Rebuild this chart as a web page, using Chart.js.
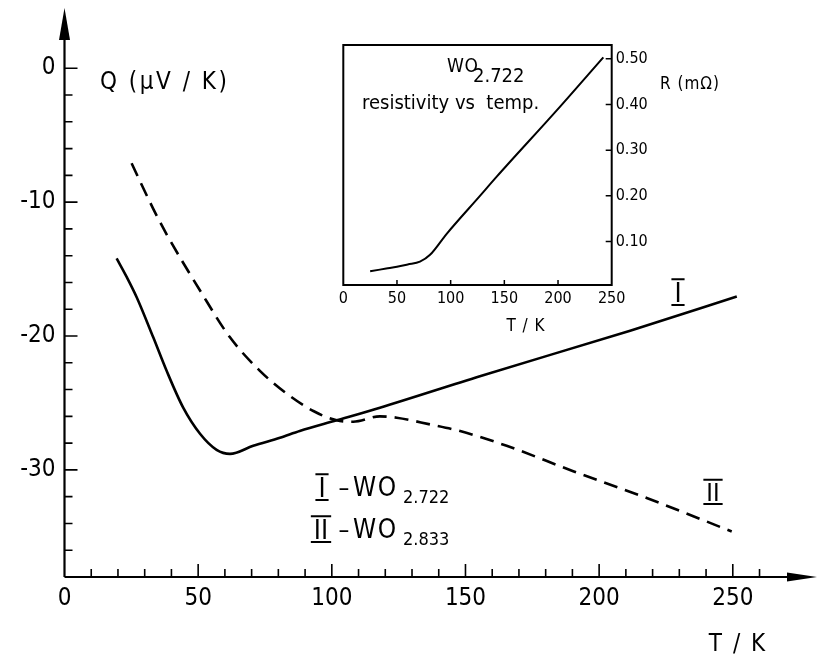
<!DOCTYPE html>
<html>
<head>
<meta charset="utf-8">
<script src="https://cdn.jsdelivr.net/npm/chart.js@4.4.1/dist/chart.umd.min.js"></script>
<style>
  html, body { margin: 0; padding: 0; background: #fff; }
  #wrap { position: relative; width: 823px; height: 654px; }
  #main { position: absolute; left: 0; top: 0; }
  #inset { position: absolute; left: 300px; top: 30px; }
</style>
</head>
<body>
<div id="wrap">
  <canvas id="main" width="823" height="654"></canvas>
  <canvas id="inset" width="470" height="320"></canvas>
</div>
<script>
/* ===== DATA ===== */
// curve I : WO2.722, solid
const curveI_T = [19.5, 23.3, 27, 33.2, 38.2, 44.4, 50.7, 56.9, 61.9, 70.6, 80.6, 88, 101.8, 118, 155.4, 211.6, 251.5];
const curveI_Q = [-14.2, -15.6, -17.1, -20.1, -22.6, -25.35, -27.3, -28.5, -28.8, -28.2, -27.6, -27.1, -26.3, -25.35, -23.0, -19.6, -17.05];
// curve II : WO2.833, dashed
const curveII_T = [25.1, 33.2, 38.2, 50.7, 61.9, 73.1, 83.1, 93.1, 101.8, 108, 118, 124.3, 136.7, 148, 165.4, 190.3, 217.8, 249.6];
const curveII_Q = [-7.1, -10.5, -12.4, -16.6, -20.1, -22.6, -24.3, -25.6, -26.3, -26.4, -26.0, -26.1, -26.6, -27.1, -28.2, -30.1, -32.1, -34.6];
// inset : resistivity vs temperature
const insetT = [25, 40, 50, 60, 71.4, 80.8, 96.3, 127.3, 142.9, 198.8, 242.2];
const insetR = [0.035, 0.041, 0.045, 0.05, 0.056, 0.071, 0.117, 0.200, 0.242, 0.387, 0.503];

// ticks
const xTickVals   = [0, 50, 100, 150, 200, 250];
const xMinorTicks = [10, 20, 30, 40, 60, 70, 80, 90, 110, 120, 130, 140, 160, 170, 180, 190, 210, 220, 230, 240, 260];
const yTickVals   = [0, -10, -20, -30];
const yMinorTicks = [-2, -4, -6, -8, -12, -14, -16, -18, -22, -24, -26, -28, -32, -34, -36];
const insetXTicks = [0, 50, 100, 150, 200, 250];
const insetYTicks = [0.10, 0.20, 0.30, 0.40, 0.50];

/* ===== HELPERS ===== */
const FAM = '"DejaVu Sans Condensed", "Liberation Sans Narrow", "DejaVu Sans", sans-serif';
const pts = (xs, ys) => xs.map((v, i) => ({ x: v, y: ys[i] }));

// no extra room for edge labels, the plot area is fixed by hand
function fixBox(s, w, h) {
  if (w !== null) s.width = w;
  if (h !== null) s.height = h;
  s.paddingTop = 0; s.paddingBottom = 0; s.paddingLeft = 0; s.paddingRight = 0;
}

function txt(ctx, s, x, y, size, align, spacing) {
  ctx.font = size + 'px ' + FAM;
  ctx.textAlign = align || 'left';
  ctx.textBaseline = 'alphabetic';
  ctx.letterSpacing = (spacing || 0) + 'px';
  ctx.fillText(s, x, y);
  ctx.letterSpacing = '0px';
}

// roman numeral with bar above and below
function roman(ctx, s, cx, base, size) {
  txt(ctx, s, cx, base, size, 'center');
  ctx.font = size + 'px ' + FAM;
  const w = ctx.measureText(s).width + 6;
  const cap = size * 0.73;
  ctx.lineWidth = 2;
  ctx.beginPath();
  ctx.moveTo(cx - w / 2, base - cap - 3); ctx.lineTo(cx + w / 2, base - cap - 3);
  ctx.moveTo(cx - w / 2, base + 3);       ctx.lineTo(cx + w / 2, base + 3);
  ctx.stroke();
}

/* ===== MAIN CHART DECORATION ===== */
const mainDeco = {
  id: 'mainDeco',
  afterDraw(chart) {
    const { ctx, scales: { x, y } } = chart;
    const x0 = x.getPixelForValue(0), y0 = y.getPixelForValue(-38);
    const xEnd = x.getPixelForValue(x.max), yEnd = y.getPixelForValue(y.max);
    ctx.save();
    ctx.strokeStyle = '#000'; ctx.fillStyle = '#000'; ctx.lineWidth = 2.2;

    // axes
    ctx.beginPath();
    ctx.moveTo(x0, y0); ctx.lineTo(xEnd - 20, y0);
    ctx.moveTo(x0, y0); ctx.lineTo(x0, yEnd + 20);
    ctx.stroke();
    // arrow heads
    ctx.beginPath();
    ctx.moveTo(xEnd, y0); ctx.lineTo(xEnd - 30, y0 - 4.5); ctx.lineTo(xEnd - 30, y0 + 4.5); ctx.closePath();
    ctx.fill();
    ctx.beginPath();
    ctx.moveTo(x0, yEnd); ctx.lineTo(x0 - 5.5, yEnd + 32); ctx.lineTo(x0 + 5.5, yEnd + 32); ctx.closePath();
    ctx.fill();

    // ticks (inward)
    ctx.lineWidth = 1.6;
    ctx.beginPath();
    yTickVals.forEach(v => { const p = y.getPixelForValue(v); ctx.moveTo(x0, p); ctx.lineTo(x0 + 13, p); });
    yMinorTicks.forEach(v => { const p = y.getPixelForValue(v); ctx.moveTo(x0, p); ctx.lineTo(x0 + 8, p); });
    xTickVals.forEach(v => { if (v === 0) return; const p = x.getPixelForValue(v); ctx.moveTo(p, y0); ctx.lineTo(p, y0 - 13); });
    xMinorTicks.forEach(v => { const p = x.getPixelForValue(v); ctx.moveTo(p, y0); ctx.lineTo(p, y0 - 8); });
    ctx.stroke();

    // axis titles
    txt(ctx, 'Q (µV / K)', 100, 89, 24, 'left', 2.5);
    txt(ctx, 'T / K', 738, 651, 24, 'center', 2);

    // legend
    roman(ctx, 'I', 322, 497, 27);
    txt(ctx, '–', 344, 496, 24, 'center');
    txt(ctx, 'WO', 353, 496, 26, 'left', 1.5);
    txt(ctx, '2.722', 403, 503, 18, 'left');
    roman(ctx, 'II', 321, 539, 27);
    txt(ctx, '–', 344, 538, 24, 'center');
    txt(ctx, 'WO', 353, 538, 26, 'left', 1.5);
    txt(ctx, '2.833', 403, 545, 18, 'left');

    // curve labels
    roman(ctx, 'I', 678, 302, 27);
    roman(ctx, 'II', 713, 501, 25);
    ctx.restore();
  }
};

const mainChart = new Chart(document.getElementById('main'), {
  type: 'line',
  data: {
    datasets: [
      { data: pts(curveI_T, curveI_Q), borderColor: '#000', borderWidth: 2.6, pointRadius: 0,
        cubicInterpolationMode: 'monotone', fill: false },
      { data: pts(curveII_T, curveII_Q), borderColor: '#000', borderWidth: 2.6, borderDash: [14, 8],
        pointRadius: 0, cubicInterpolationMode: 'monotone', fill: false }
    ]
  },
  options: {
    responsive: false, animation: false, devicePixelRatio: 1,
    layout: { padding: { top: 8, right: 6, left: 0, bottom: 0 } },
    plugins: { legend: { display: false }, tooltip: { enabled: false } },
    scales: {
      x: {
        type: 'linear', min: 0, max: 281.5,
        grid: { display: false, drawTicks: false }, border: { display: false },
        ticks: { color: '#000', font: { size: 24, family: FAM }, padding: 7, maxRotation: 0, autoSkip: false },
        afterBuildTicks: s => { s.ticks = xTickVals.map(v => ({ value: v })); },
        afterFit: s => fixBox(s, null, 77)
      },
      y: {
        type: 'linear', min: -38, max: 4.5,
        grid: { display: false, drawTicks: false }, border: { display: false },
        ticks: { color: '#000', font: { size: 24, family: FAM }, padding: 9, autoSkip: false,
                 callback: v => String(v) },
        afterBuildTicks: s => { s.ticks = yTickVals.map(v => ({ value: v })); },
        afterFit: s => fixBox(s, 64.5, null)
      }
    }
  },
  plugins: [mainDeco]
});

/* ===== INSET ===== */
const insetDeco = {
  id: 'insetDeco',
  afterDraw(chart) {
    const { ctx, chartArea: a, scales: { x, y } } = chart;
    ctx.save();
    ctx.strokeStyle = '#000'; ctx.fillStyle = '#000'; ctx.lineWidth = 2;
    ctx.strokeRect(a.left, a.top, a.right - a.left, a.bottom - a.top);
    ctx.lineWidth = 1.5;
    ctx.beginPath();
    insetXTicks.forEach(v => { if (v === 0 || v === 250) return; const p = x.getPixelForValue(v); ctx.moveTo(p, a.bottom); ctx.lineTo(p, a.bottom - 5); });
    insetYTicks.forEach(v => { const p = y.getPixelForValue(v); ctx.moveTo(a.right, p); ctx.lineTo(a.right - 6, p); });
    ctx.stroke();

    txt(ctx, 'WO', 147, 42, 19, 'left', 0.5);
    txt(ctx, '2.722', 173, 52, 20, 'left');
    txt(ctx, 'resistivity vs  temp.', 62, 79, 20, 'left');
    txt(ctx, 'R (mΩ)', 360, 59, 17, 'left', 1);
    txt(ctx, 'T / K', 226, 301, 17, 'center', 1);
    ctx.restore();
  }
};

const insetChart = new Chart(document.getElementById('inset'), {
  type: 'line',
  data: {
    datasets: [
      { data: pts(insetT, insetR), borderColor: '#000', borderWidth: 2, pointRadius: 0,
        cubicInterpolationMode: 'monotone', fill: false }
    ]
  },
  options: {
    responsive: false, animation: false, devicePixelRatio: 1,
    layout: { padding: { left: 43.3, top: 15, right: 0, bottom: 0 } },
    plugins: { legend: { display: false }, tooltip: { enabled: false } },
    scales: {
      x: {
        type: 'linear', min: 0, max: 250,
        grid: { display: false, drawTicks: false }, border: { display: false },
        ticks: { color: '#000', font: { size: 16, family: FAM }, padding: 4, maxRotation: 0, autoSkip: false },
        afterBuildTicks: s => { s.ticks = insetXTicks.map(v => ({ value: v })); },
        afterFit: s => fixBox(s, null, 65)
      },
      y: {
        type: 'linear', position: 'right', min: 0.005, max: 0.53,
        grid: { display: false, drawTicks: false }, border: { display: false },
        ticks: { color: '#000', font: { size: 16, family: FAM }, padding: 4, autoSkip: false,
                 callback: v => v.toFixed(2) },
        afterBuildTicks: s => { s.ticks = insetYTicks.map(v => ({ value: v })); },
        afterFit: s => fixBox(s, 158.3, null)
      }
    }
  },
  plugins: [insetDeco]
});
</script>
</body>
</html>
